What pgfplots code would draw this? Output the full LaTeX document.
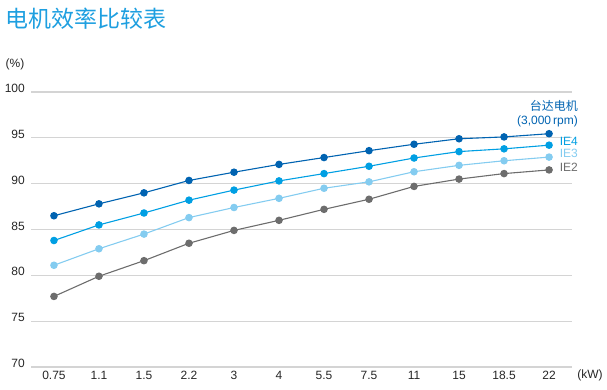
\documentclass[border=0pt]{standalone}
\usepackage{pgfplots}
\pgfplotsset{compat=1.18}
\usepackage{fontspec}
\setmainfont{Liberation Sans}
\newfontfamily\cjk{Noto Sans CJK SC}
\definecolor{taida}{HTML}{0063B1}
\definecolor{ieF}{HTML}{009FE3}
\definecolor{ieT}{HTML}{84CCF0}
\definecolor{ieS}{HTML}{6D6D6D}
\definecolor{gridc}{HTML}{D4D4D4}
\definecolor{titlec}{HTML}{1E9FE0}
\begin{document}
\begin{tikzpicture}[x=1bp,y=1bp]
\useasboundingbox (0,0) rectangle (607,389);
\begin{axis}[
  at={(31bp,22bp)}, anchor=south west,
  scale only axis, width=541bp, height=275bp,
  xmin=-0.51, xmax=11.51, ymin=70, ymax=100,
  ytick={70,75,...,100},
  xtick={0,...,11},
  xticklabels={0.75,1.1,1.5,2.2,3,4,5.5,7.5,11,15,18.5,22},
  ymajorgrids,
  grid style={gridc, line width=1.3bp},
  axis line style={draw=none},
  major tick length=0pt,
  tick label style={font=\fontsize{12bp}{14bp}\selectfont, inner sep=0pt, text=black!85},
  yticklabel style={anchor=east, xshift=-6bp, yshift=3.5bp},
  xticklabel style={anchor=north, yshift=-4bp},
  /pgf/number format/assume math mode=true,
  clip=false,
  every axis plot/.append style={line width=1.1bp, mark=*, mark size=3.2bp},
]
\addplot[ieS, mark options={fill=ieS}] coordinates {(0,77.7)(1,79.9)(2,81.6)(3,83.5)(4,84.9)(5,86.0)(6,87.2)(7,88.3)(8,89.7)(9,90.5)(10,91.1)(11,91.5)};
\addplot[ieT, mark options={fill=ieT}] coordinates {(0,81.1)(1,82.9)(2,84.5)(3,86.3)(4,87.4)(5,88.4)(6,89.5)(7,90.2)(8,91.3)(9,92.0)(10,92.5)(11,92.9)};
\addplot[ieF, mark options={fill=ieF}] coordinates {(0,83.8)(1,85.5)(2,86.8)(3,88.2)(4,89.3)(5,90.3)(6,91.1)(7,91.9)(8,92.8)(9,93.5)(10,93.8)(11,94.2)};
\addplot[taida, mark options={fill=taida}] coordinates {(0,86.5)(1,87.8)(2,89.0)(3,90.35)(4,91.25)(5,92.1)(6,92.85)(7,93.6)(8,94.3)(9,94.9)(10,95.1)(11,95.45)};
\end{axis}
\node[anchor=west, inner sep=0pt, text=titlec, font=\cjk\fontsize{23bp}{26bp}\selectfont] at (5,370) {电机效率比较表};
\node[inner sep=0pt, font=\fontsize{12bp}{14bp}\selectfont, text=black!85] at (15,325) {(\%)};
\node[inner sep=0pt, font=\fontsize{12bp}{14bp}\selectfont, text=black!85] at (590,14) {(kW)};
\node[anchor=east, inner sep=0pt, text=taida, font=\cjk\fontsize{12bp}{14bp}\selectfont] at (578,283) {台达电机};
\node[anchor=east, inner sep=0pt, text=taida, font=\fontsize{12bp}{14bp}\selectfont] at (578,268) {(3,000\,rpm)};
\node[anchor=east, inner sep=0pt, text=ieF, font=\fontsize{12bp}{14bp}\selectfont] at (578,248) {IE4};
\node[anchor=east, inner sep=0pt, text=ieT, font=\fontsize{12bp}{14bp}\selectfont] at (578,236) {IE3};
\node[anchor=east, inner sep=0pt, text=ieS, font=\fontsize{12bp}{14bp}\selectfont] at (578,222) {IE2};
\end{tikzpicture}
\end{document}
